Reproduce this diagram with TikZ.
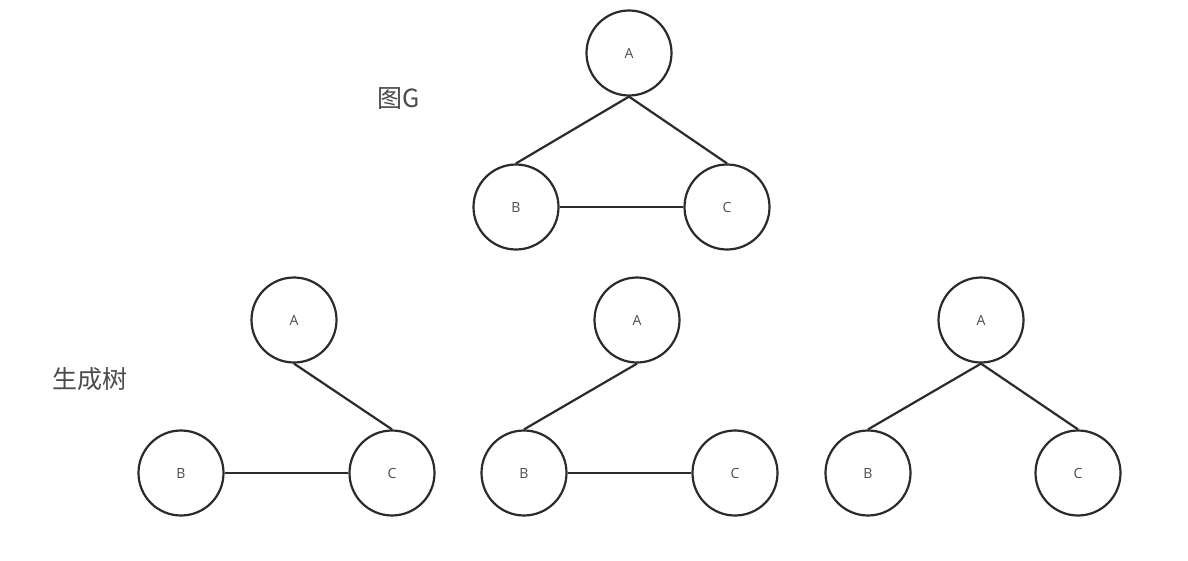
\documentclass[tikz,border=0pt]{standalone}
\usepackage{fontspec}
\setmainfont{Open Sans}
\newfontfamily\cjkfont{Noto Sans CJK SC}
\definecolor{ink}{HTML}{2B2B2B}
\begin{document}
\begin{tikzpicture}[x=1pt,y=-1pt,
  vert/.style={circle,draw=ink,line width=2.2pt,minimum size=85pt,inner sep=0pt,
    font=\fontsize{14}{14}\selectfont,text=ink!85},
  edge/.style={draw=ink,line width=2.2pt},
  lbl/.style={font=\cjkfont\fontsize{25}{25}\selectfont,text=ink!85,inner sep=0pt}]
\useasboundingbox[fill=white] (0,0) rectangle (1188,560);
% graph G
\node[vert] (gA) at (629,53) {A};
\node[vert] (gB) at (516,207) {B};
\node[vert] (gC) at (727,207) {C};
\draw[edge] (gA.south) -- (gB.north);
\draw[edge] (gA.south) -- (gC.north);
\draw[edge] (gB.east) -- (gC.west);
\node[lbl] (tG) at (399,99) {图G};
% tree 1
\node[vert] (aA) at (294,320) {A};
\node[vert] (aB) at (181,473) {B};
\node[vert] (aC) at (392,473) {C};
\draw[edge] (aA.south) -- (aC.north);
\draw[edge] (aB.east) -- (aC.west);
% tree 2
\node[vert] (bA) at (637,320) {A};
\node[vert] (bB) at (524,473) {B};
\node[vert] (bC) at (735,473) {C};
\draw[edge] (bA.south) -- (bB.north);
\draw[edge] (bB.east) -- (bC.west);
% tree 3
\node[vert] (cA) at (981,320) {A};
\node[vert] (cB) at (868,473) {B};
\node[vert] (cC) at (1078,473) {C};
\draw[edge] (cA.south) -- (cB.north);
\draw[edge] (cA.south) -- (cC.north);
\node[lbl] (tS) at (90,379) {生成树};
\end{tikzpicture}
\end{document}
